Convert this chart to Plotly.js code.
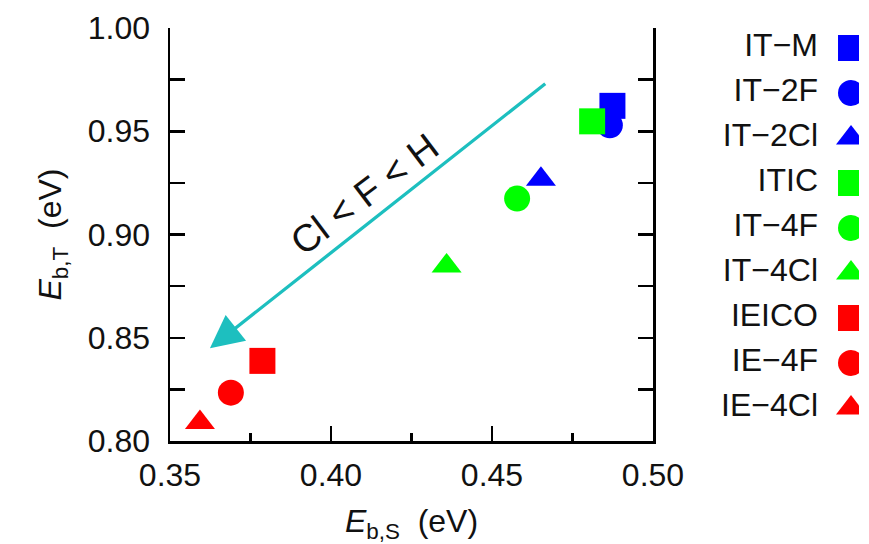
<!DOCTYPE html>
<html>
<head>
<meta charset="utf-8">
<script src="https://cdn.plot.ly/plotly-3.0.1.min.js"></script>
<style>html,body{margin:0;padding:0;background:#fff;}#chart{width:869px;height:544px;}</style>
</head>
<body>
<div id="chart"></div>
<script>
// ---- data ----
const names = ['IT\u2212M', 'IT\u22122F', 'IT\u22122Cl', 'ITIC', 'IT\u22124F', 'IT\u22124Cl', 'IEICO', 'IE\u22124F', 'IE\u22124Cl'];
const ebS = [0.4874, 0.4866, 0.4652, 0.4811, 0.4578, 0.4359, 0.3787, 0.3689, 0.3593];
const ebT = [0.9623, 0.9529, 0.9268, 0.9548, 0.9174, 0.8848, 0.8388, 0.8234, 0.8089];
const xTicks = [0.35, 0.40, 0.45, 0.50];
const yTicks = [0.80, 0.85, 0.90, 0.95, 1.00];
// arrow: tail and tip in data units
const arrowTail = [0.4670, 0.9736];
const arrowTip = [0.3624, 0.8449];
const arrowLabel = 'Cl < F < H';

// ---- styles ----
const colors = ['#0000ff', '#0000ff', '#0000ff', '#00ff00', '#00ff00', '#00ff00', '#ff0000', '#ff0000', '#ff0000'];
const symbols = ['square', 'circle', 'triangle-up', 'square', 'circle', 'triangle-up', 'square', 'circle', 'triangle-up'];
const sizeFor = s => 26;

const FONT = 'Liberation Sans, Arial, Helvetica, sans-serif';
const FS = 32;

const traces = [];
names.forEach((n, i) => {
  traces.push({
    type: 'scatter', mode: 'markers', name: n,
    x: [ebS[i]], y: [ebT[i]],
    marker: { symbol: symbols[i], color: colors[i], size: sizeFor(symbols[i]), opacity: 1, line: { width: 0 } },
    xaxis: 'x', yaxis: 'y', showlegend: false, hoverinfo: 'skip'
  });
});

// custom legend (symbol on the right of the label)
const legIdx = names.map((_, i) => i);
const LEG_MARK_X = 0.9536, LEG_TEXT_X = 0.762;
traces.push({
  type: 'scatter', mode: 'markers', xaxis: 'x2', yaxis: 'y2',
  x: names.map(() => LEG_MARK_X), y: legIdx,
  marker: { symbol: symbols, color: colors, size: symbols.map(sizeFor), opacity: 1, line: { width: 0 } },
  showlegend: false, hoverinfo: 'skip'
});
traces.push({
  type: 'scatter', mode: 'text', xaxis: 'x2', yaxis: 'y2',
  x: names.map(() => LEG_TEXT_X), y: legIdx, text: names,
  textposition: 'middle left', textfont: { family: FONT, size: FS, color: '#111' },
  showlegend: false, hoverinfo: 'skip'
});

const axisCommon = {
  showgrid: false, zeroline: false, showline: true, linecolor: '#000', linewidth: 2.5,
  ticks: 'inside', tickcolor: '#000', tickwidth: 2.5,
  tickfont: { family: FONT, size: FS, color: '#111' }
};

const layout = {
  width: 869, height: 544,
  margin: { l: 170, r: 10, t: 28, b: 103 },
  paper_bgcolor: '#fff', plot_bgcolor: '#fff',
  font: { family: FONT, color: '#111' },
  xaxis: Object.assign({}, axisCommon, {
    domain: [0, 483 / 689], range: [0.35, 0.50], anchor: 'y',
    tickvals: xTicks, ticktext: xTicks.map(v => v.toFixed(2)), ticklen: 15,
    minor: { dtick: 0.025, tick0: 0.35, ticks: 'inside', ticklen: 8, tickwidth: 2.5, tickcolor: '#000' },
    mirror: false, ticklabelstandoff: 4,
    title: { text: '<i>E</i><sub>b,S</sub>\u00a0\u00a0(eV)', font: { family: FONT, size: FS, color: '#111' }, standoff: 20 }
  }),
  xaxis3: Object.assign({}, axisCommon, {
    domain: [0, 483 / 689], range: [0.35, 0.50], anchor: 'y', overlaying: 'x', side: 'top',
    tickmode: 'linear', tick0: 0.35, dtick: 0.025, ticklen: 15, showticklabels: false
  }),
  yaxis: Object.assign({}, axisCommon, {
    domain: [0, 1], range: [0.80, 1.00], anchor: 'x',
    tickvals: yTicks, ticktext: yTicks.map(v => v.toFixed(2)), ticklen: 15,
    minor: { dtick: 0.025, tick0: 0.80, ticks: 'inside', ticklen: 15, tickwidth: 2.5, tickcolor: '#000' },
    mirror: 'ticks', ticklabelstandoff: 11,
    title: { text: '<i>E</i><sub>b,T</sub>\u00a0\u00a0(eV)', font: { family: FONT, size: FS, color: '#111' }, standoff: 17 }
  }),
  xaxis2: { domain: [0.75, 1], range: [0, 1], visible: false, anchor: 'y2', fixedrange: true },
  yaxis2: { domain: [0, 1], range: [8.733, -0.444], visible: false, anchor: 'x2', fixedrange: true },
  annotations: [
    {
      xref: 'x', yref: 'y', axref: 'x', ayref: 'y',
      x: arrowTip[0], y: arrowTip[1], ax: arrowTail[0], ay: arrowTail[1],
      text: '', showarrow: true, arrowhead: 2, arrowsize: 2.0, arrowwidth: 3.3, arrowcolor: '#1dbfbf', standoff: 0
    },
    {
      xref: 'x', yref: 'y', x: 0.4105, y: 0.9195, text: arrowLabel, showarrow: false,
      textangle: -37, font: { family: FONT, size: 38, color: '#111' }
    }
  ]
};

Plotly.newPlot('chart', traces, layout, { staticPlot: true, displayModeBar: false });
</script>
</body>
</html>
